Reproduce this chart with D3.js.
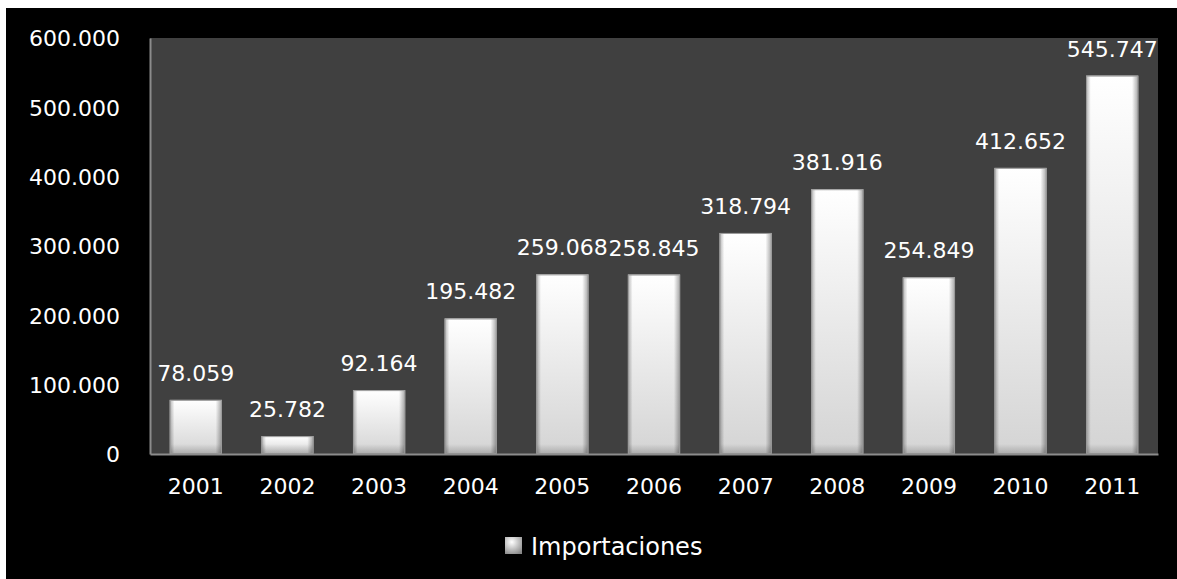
<!DOCTYPE html>
<html>
<head>
<meta charset="utf-8">
<script src="https://cdn.jsdelivr.net/npm/d3@7"></script>
<style>
  html, body { margin: 0; padding: 0; background: #fff; }
  svg { display: block; }
  text { font-family: "DejaVu Sans", sans-serif; fill: #fff; }
</style>
</head>
<body>
<div id="chart"></div>
<script>
const years = ['2001', '2002', '2003', '2004', '2005', '2006', '2007', '2008', '2009', '2010', '2011'];
const importaciones = [78059, 25782, 92164, 195482, 259068, 258845, 318794, 381916, 254849, 412652, 545747];
const yTicks = [0, 100000, 200000, 300000, 400000, 500000, 600000];
const seriesName = 'Importaciones';

const width = 1177;
const height = 579;
const plot = { left: 150, top: 38, right: 1158, bottom: 454 };

const fmt = (v) => d3.format(',')(v).replace(/,/g, '.');

const svg = d3.select('#chart')
  .append('svg')
  .attr('width', width)
  .attr('height', height);

// black chart area, white strip on top and left
svg.append('rect')
  .attr('x', 6).attr('y', 8)
  .attr('width', width - 6).attr('height', height - 8)
  .attr('fill', '#000');

const defs = svg.append('defs');

const vGrad = defs.append('linearGradient')
  .attr('id', 'barV').attr('x1', 0).attr('y1', 0).attr('x2', 0).attr('y2', 1);
vGrad.append('stop').attr('offset', '0%').attr('stop-color', '#ffffff');
vGrad.append('stop').attr('offset', '100%').attr('stop-color', '#d4d4d4');

// soft bevel on left and right edges
const hGrad = defs.append('linearGradient')
  .attr('id', 'barH').attr('x1', 0).attr('y1', 0).attr('x2', 1).attr('y2', 0);
hGrad.append('stop').attr('offset', '0%').attr('stop-color', '#000').attr('stop-opacity', 0.3);
hGrad.append('stop').attr('offset', '9%').attr('stop-color', '#000').attr('stop-opacity', 0);
hGrad.append('stop').attr('offset', '88%').attr('stop-color', '#000').attr('stop-opacity', 0);
hGrad.append('stop').attr('offset', '100%').attr('stop-color', '#000').attr('stop-opacity', 0.35);

const bGrad = defs.append('linearGradient')
  .attr('id', 'barB').attr('x1', 0).attr('y1', 0).attr('x2', 0).attr('y2', 1);
bGrad.append('stop').attr('offset', '0%').attr('stop-color', '#000').attr('stop-opacity', 0);
bGrad.append('stop').attr('offset', '100%').attr('stop-color', '#000').attr('stop-opacity', 0.2);

const legGrad = defs.append('radialGradient')
  .attr('id', 'legG').attr('cx', '40%').attr('cy', '30%').attr('r', '80%');
legGrad.append('stop').attr('offset', '0%').attr('stop-color', '#fff');
legGrad.append('stop').attr('offset', '100%').attr('stop-color', '#888');

const x = d3.scaleBand()
  .domain(years)
  .range([plot.left, plot.right])
  .paddingInner(0.43)
  .paddingOuter(0.215);

const y = d3.scaleLinear()
  .domain([0, 600000])
  .range([plot.bottom, plot.top]);

svg.append('rect')
  .attr('x', plot.left).attr('y', plot.top)
  .attr('width', plot.right - plot.left).attr('height', plot.bottom - plot.top)
  .attr('fill', '#404040');

const bars = svg.selectAll('.bar')
  .data(years.map((yr, i) => ({ year: yr, value: importaciones[i] })))
  .enter()
  .append('g')
  .attr('class', 'bar');

bars.append('rect')
  .attr('x', (d) => x(d.year))
  .attr('y', (d) => y(d.value))
  .attr('width', x.bandwidth())
  .attr('height', (d) => y(0) - y(d.value))
  .attr('fill', 'url(#barV)');

bars.append('rect')
  .attr('x', (d) => x(d.year))
  .attr('y', (d) => y(d.value))
  .attr('width', x.bandwidth())
  .attr('height', (d) => y(0) - y(d.value))
  .attr('fill', 'url(#barH)');

bars.append('rect')
  .attr('x', (d) => x(d.year))
  .attr('y', (d) => Math.max(y(d.value), y(0) - 10))
  .attr('width', x.bandwidth())
  .attr('height', (d) => Math.min(10, y(0) - y(d.value)))
  .attr('fill', 'url(#barB)');

bars.append('rect')
  .attr('x', (d) => x(d.year) + 0.5)
  .attr('y', (d) => y(d.value) + 0.5)
  .attr('width', x.bandwidth() - 1)
  .attr('height', (d) => y(0) - y(d.value) - 1)
  .attr('fill', 'none')
  .attr('stroke', '#9a9a9a')
  .attr('stroke-width', 1);

bars.append('text')
  .attr('x', (d) => x(d.year) + x.bandwidth() / 2)
  .attr('y', (d) => y(d.value) - 19)
  .attr('text-anchor', 'middle')
  .style('font-size', '22px')
  .text((d) => fmt(d.value));

// axes
const yAxis = svg.append('g')
  .attr('transform', `translate(${plot.left},0)`)
  .call(d3.axisLeft(y).tickValues(yTicks).tickSize(0).tickPadding(30).tickFormat(fmt));
yAxis.select('.domain').attr('stroke', '#8c8c8c').attr('stroke-width', 2);
yAxis.selectAll('text').style('font-size', '22px').attr('fill', '#fff').attr('dy', '0.36em');

const xAxis = svg.append('g')
  .attr('transform', `translate(0,${plot.bottom})`)
  .call(d3.axisBottom(x).tickSize(0).tickPadding(24));
xAxis.select('.domain').attr('stroke', '#8c8c8c').attr('stroke-width', 2);
xAxis.selectAll('text').style('font-size', '22px').attr('fill', '#fff');

// legend
const legend = svg.append('g').attr('transform', 'translate(505,537)');
legend.append('rect')
  .attr('width', 17).attr('height', 17)
  .attr('fill', 'url(#legG)');
legend.append('text')
  .attr('x', 26).attr('y', 9)
  .attr('dy', '0.36em')
  .style('font-size', '24px')
  .text(seriesName);
</script>
</body>
</html>
